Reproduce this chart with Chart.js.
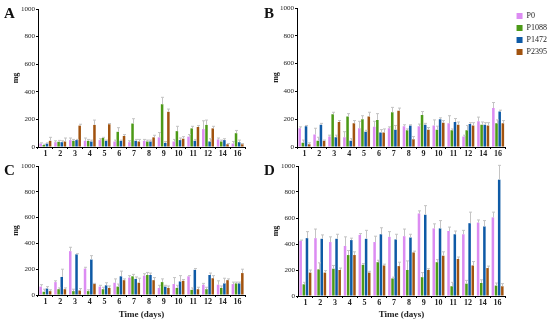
<!DOCTYPE html>
<html>
<head>
<meta charset="utf-8">
<script src="https://cdn.jsdelivr.net/npm/chart.js@4.4.1/dist/chart.umd.min.js"></script>
<style>
  body { margin: 0; background: #fff; width: 550px; height: 320px; position: relative; overflow: hidden; }
  .panel { position: absolute; }
  .tag { position: absolute; font: bold 15px "Liberation Serif", serif; color: #111; line-height: 15px; }
</style>
</head>
<body>
<div class="panel" style="left:0;top:0;width:250px;height:160px"><canvas id="chartA"></canvas></div>
<div class="panel" style="left:268px;top:0;width:282px;height:160px"><canvas id="chartB"></canvas></div>
<div class="panel" style="left:0;top:160px;width:250px;height:160px"><canvas id="chartC"></canvas></div>
<div class="panel" style="left:268px;top:160px;width:282px;height:160px"><canvas id="chartD"></canvas></div>
<div class="tag" style="left:4px;top:6px">A</div>
<div class="tag" style="left:264px;top:6px">B</div>
<div class="tag" style="left:4px;top:163px">C</div>
<div class="tag" style="left:264px;top:163px">D</div>
<script>
const days = ["1", "2", "3", "4", "5", "6", "7", "8", "9", "10", "11", "12", "14", "16"];
const seriesNames = ["P0", "P1088", "P1472", "P2395"];
const yTicks = [0, 200, 400, 600, 800, 1000];

// panel A
const A_P0 = [25, 35, 50, 45, 50, 40, 35, 45, 70, 40, 75, 130, 55, 25];
const A_P1088 = [15, 38, 45, 45, 65, 110, 170, 40, 310, 115, 135, 160, 40, 100];
const A_P1472 = [25, 35, 50, 40, 45, 45, 45, 40, 30, 50, 45, 40, 50, 35];
const A_P2395 = [45, 40, 155, 160, 165, 80, 40, 70, 255, 60, 145, 135, 20, 20];
const A_err0 = [5, 10, 15, 20, 10, 10, 10, 10, 35, 15, 15, 60, 10, 15];
const A_err1 = [5, 10, 10, 10, 5, 30, 35, 10, 50, 35, 15, 35, 10, 20];
const A_err2 = [5, 10, 5, 10, 5, 5, 10, 10, 10, 15, 10, 20, 10, 15];
const A_err3 = [25, 25, 10, 35, 5, 10, 15, 15, 20, 15, 10, 15, 5, 5];

// panel B
const B_P0 = [135, 90, 75, 70, 135, 145, 135, 150, 150, 155, 170, 75, 185, 280];
const B_P1088 = [30, 45, 235, 220, 200, 195, 250, 120, 230, 125, 120, 120, 160, 170];
const B_P1472 = [150, 160, 70, 45, 110, 105, 125, 155, 160, 200, 180, 165, 160, 255];
const B_P2395 = [20, 45, 180, 170, 220, 105, 260, 55, 125, 175, 160, 155, 155, 170];
const B_err0 = [10, 45, 10, 40, 50, 40, 10, 10, 15, 40, 55, 10, 30, 40];
const B_err1 = [20, 25, 15, 20, 25, 45, 35, 10, 25, 25, 10, 35, 20, 25];
const B_err2 = [5, 10, 15, 15, 10, 20, 30, 5, 10, 10, 25, 10, 15, 10];
const B_err3 = [10, 5, 10, 20, 30, 25, 20, 20, 15, 15, 20, 20, 20, 20];

// panel C
const C_P0 = [65, 100, 340, 205, 65, 95, 135, 150, 55, 85, 145, 80, 80, 85];
const C_P1088 = [25, 45, 30, 30, 45, 65, 145, 155, 100, 55, 40, 45, 55, 90];
const C_P1472 = [50, 140, 315, 275, 75, 145, 125, 155, 65, 105, 195, 155, 90, 90];
const C_P2395 = [30, 45, 35, 85, 55, 115, 95, 115, 55, 110, 45, 130, 115, 170];
const C_err0 = [15, 10, 30, 10, 10, 30, 15, 15, 20, 50, 5, 10, 30, 15];
const C_err1 = [20, 10, 15, 10, 15, 20, 15, 20, 25, 20, 15, 15, 15, 10];
const C_err2 = [15, 60, 5, 30, 20, 40, 15, 15, 10, 45, 10, 15, 40, 10];
const C_err3 = [10, 10, 15, 5, 15, 10, 35, 20, 15, 10, 15, 20, 10, 30];

// panel D
const D_P0 = [425, 445, 415, 385, 470, 415, 455, 460, 635, 520, 500, 475, 565, 605];
const D_P1088 = [90, 205, 210, 315, 240, 260, 135, 200, 145, 260, 75, 95, 100, 80];
const D_P1472 = [445, 440, 440, 430, 440, 475, 435, 450, 625, 520, 475, 560, 535, 895];
const D_P2395 = [180, 180, 200, 315, 180, 235, 230, 335, 200, 310, 285, 235, 215, 75];
const D_err0 = [5, 70, 40, 70, 10, 45, 40, 55, 20, 35, 30, 30, 20, 40];
const D_err1 = [15, 50, 25, 35, 10, 15, 10, 70, 35, 20, 30, 25, 25, 20];
const D_err2 = [50, 30, 35, 15, 65, 50, 40, 25, 70, 60, 25, 85, 45, 110];
const D_err3 = [20, 15, 15, 25, 10, 10, 30, 10, 10, 30, 15, 30, 15, 20];

const colors = ["#dc8cf2", "#4c9a17", "#0e5aa6", "#a1530f"];
const serif = '"Liberation Serif", serif';

// draw the +SD whiskers on top of each bar
const errorBars = {
  id: "errorBars",
  afterDatasetsDraw(chart) {
    const ctx = chart.ctx;
    const y = chart.scales.y;
    ctx.save();
    ctx.strokeStyle = "#c4c4c4";
    ctx.lineWidth = 1;
    chart.data.datasets.forEach((ds, i) => {
      const meta = chart.getDatasetMeta(i);
      meta.data.forEach((bar, j) => {
        const top = y.getPixelForValue(ds.data[j] + ds.err[j]);
        const x = Math.round(bar.x) + 0.5;
        ctx.beginPath();
        ctx.moveTo(x, bar.y);
        ctx.lineTo(x, top);
        ctx.moveTo(x - 1.5, top);
        ctx.lineTo(x + 1.5, top);
        ctx.stroke();
      });
    });
    ctx.restore();
  }
};

// nudge the legend a little to the right of the plot, like the original
const legendNudge = {
  id: "legendNudge",
  afterLayout(chart) {
    if (chart.legend && chart.options.plugins.legend.display) {
      chart.legend.left += 7;
      chart.legend.right += 7;
    }
  }
};

function drawPanel(id, values, errs, cfg) {
  const ctx = document.getElementById(id).getContext("2d");
  return new Chart(ctx, {
    type: "bar",
    data: {
      labels: days,
      datasets: values.map((v, i) => ({
        label: seriesNames[i],
        data: v,
        err: errs[i],
        backgroundColor: colors[i],
        borderWidth: 0,
        categoryPercentage: 0.85,
        barPercentage: 0.8
      }))
    },
    options: {
      responsive: true,
      maintainAspectRatio: false,
      animation: false,
      devicePixelRatio: 1,
      layout: { padding: { top: cfg.top, right: cfg.right, left: 0, bottom: 0 } },
      plugins: {
        tooltip: { enabled: false },
        legend: {
          display: !!cfg.legend,
          position: "right",
          align: "start",
          labels: {
            boxWidth: 6,
            boxHeight: 6,
            padding: 4,
            color: "#222",
            font: { family: serif, size: 8 }
          }
        }
      },
      scales: {
        x: {
          grid: { drawOnChartArea: false, drawTicks: true, tickLength: 2, color: "#000" },
          border: { color: "#000", width: 1 },
          ticks: { color: "#222", padding: 0, maxRotation: 0, autoSkip: false, font: { family: serif, size: 8, weight: "bold" } },
          title: {
            display: !!cfg.xTitle,
            text: "Time (days)",
            color: "#222",
            padding: { top: 0, bottom: 0 },
            font: { family: serif, size: 9, weight: "bold" }
          },
          afterFit: (s) => { s.height = cfg.xh; }
        },
        y: {
          min: 0,
          max: 1000,
          afterBuildTicks: (s) => { s.ticks = yTicks.map((v) => ({ value: v })); },
          grid: { drawOnChartArea: false, drawTicks: true, tickLength: 2, color: "#000" },
          border: { color: "#000", width: 1 },
          ticks: {
            color: "#222",
            padding: 1,
            font: { family: serif, size: 7 },
            callback: (v) => String(v)
          },
          title: {
            display: true,
            text: "mg",
            color: "#222",
            padding: { top: cfg.mgPad, bottom: 0 },
            font: { family: serif, size: 8, weight: "bold" }
          },
          afterFit: (s) => { s.width = cfg.yw; }
        }
      }
    },
    plugins: [errorBars, legendNudge]
  });
}

drawPanel("chartA", [A_P0, A_P1088, A_P1472, A_P2395], [A_err0, A_err1, A_err2, A_err3],
  { top: 9, right: 5, xh: 13, yw: 38, mgPad: 11 });
drawPanel("chartB", [B_P0, B_P1088, B_P1472, B_P2395], [B_err0, B_err1, B_err2, B_err3],
  { top: 8, right: 0, xh: 13, yw: 29, mgPad: 3, legend: true });
drawPanel("chartC", [C_P0, C_P1088, C_P1472, C_P2395], [C_err0, C_err1, C_err2, C_err3],
  { top: 6, right: 5, xh: 25, yw: 38, mgPad: 11, xTitle: true });
drawPanel("chartD", [D_P0, D_P1088, D_P1472, D_P2395], [D_err0, D_err1, D_err2, D_err3],
  { top: 6, right: 45, xh: 24, yw: 30, mgPad: 3, xTitle: true });
</script>
</body>
</html>
